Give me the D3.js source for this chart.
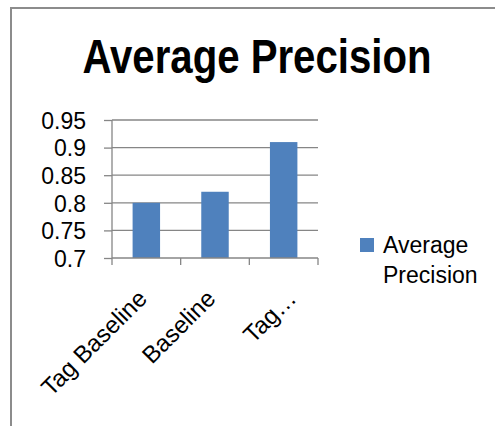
<!DOCTYPE html>
<html lang="en">
<head>
    <meta charset="UTF-8">
    <title>Average Precision</title>
    <script src="https://d3js.org/d3.v7.min.js"></script>
    <style>
        body {
            margin: 0;
            padding: 0;
            background-color: #ffffff;
        }
        svg text {
            font-family: 'Liberation Sans', Arial, sans-serif;
            fill: #000000;
        }
    </style>
</head>
<body>
    <div id="chart"></div>

    <script>
        // data
        const categories = ['Tag Baseline', 'Baseline', 'Tag…'];
        const values = [0.80, 0.82, 0.91];
        const yTicks = [0.7, 0.75, 0.8, 0.85, 0.9, 0.95];
        const seriesName = 'Average Precision';

        const width = 495;
        const height = 426;
        const gridColor = '#868686';
        const barColor = '#4f81bd';

        const svg = d3.select('#chart')
            .append('svg')
            .attr('width', width)
            .attr('height', height);

        // chart frame (only left and top edges are visible in the crop)
        svg.append('path')
            .attr('d', `M11,${height} V8 H${width}`)
            .attr('fill', 'none')
            .attr('stroke', '#8c8c8c')
            .attr('stroke-width', 2);

        // title - the original uses a narrow bold face, so squeeze it horizontally
        svg.append('text')
            .attr('transform', 'translate(257,73) scale(0.82,1)')
            .attr('text-anchor', 'middle')
            .style('font-weight', 'bold')
            .style('font-size', '49px')
            .text(seriesName);

        const x = d3.scaleBand()
            .domain(categories)
            .range([112, 318])
            .paddingInner(0.6)
            .paddingOuter(0.3);

        const y = d3.scaleLinear()
            .domain([0.7, 0.95])
            .range([258, 120]);

        // gridlines
        svg.append('g')
            .selectAll('line')
            .data(yTicks.slice(1))
            .join('line')
            .attr('x1', 112)
            .attr('x2', 318)
            .attr('y1', d => y(d))
            .attr('y2', d => y(d))
            .attr('stroke', gridColor)
            .attr('stroke-width', 1.3);

        // y axis
        const yAxis = svg.append('g')
            .attr('transform', 'translate(112,0)')
            .call(d3.axisLeft(y).tickValues(yTicks).tickSize(8).tickPadding(18)
                .tickFormat(d => d3.format('')(+d.toFixed(2))));
        yAxis.select('.domain').attr('stroke', gridColor).attr('stroke-width', 1.3)
            .attr('d', `M0,${y(0.95)}V${y(0.7)}`);
        yAxis.selectAll('.tick line').attr('stroke', gridColor).attr('stroke-width', 1.3);
        yAxis.selectAll('.tick text')
            .style('font-size', '23px')
            .attr('dy', '0.36em');

        // bars
        svg.append('g')
            .selectAll('rect')
            .data(values)
            .join('rect')
            .attr('x', (d, i) => x(categories[i]))
            .attr('y', d => y(d))
            .attr('width', x.bandwidth())
            .attr('height', d => y(0.7) - y(d))
            .attr('fill', barColor);

        // x axis line with tick marks between categories
        const step = x.step();
        const x0 = 112;
        const tickPos = d3.range(categories.length + 1).map(i => x0 + i * step);
        svg.append('line')
            .attr('x1', 112).attr('x2', 318)
            .attr('y1', y(0.7)).attr('y2', y(0.7))
            .attr('stroke', gridColor).attr('stroke-width', 1.3);
        svg.append('g')
            .selectAll('line')
            .data(tickPos)
            .join('line')
            .attr('x1', d => d).attr('x2', d => d)
            .attr('y1', y(0.7)).attr('y2', y(0.7) + 7)
            .attr('stroke', gridColor).attr('stroke-width', 1.3);

        // rotated category labels
        svg.append('g')
            .selectAll('text')
            .data(categories)
            .join('text')
            .attr('transform', (d, i) => {
                const cx = x(d) + x.bandwidth() / 2 + (i === categories.length - 1 ? 14 : 2);
                return `translate(${cx},${y(0.7) + 42}) rotate(-45)`;
            })
            .attr('text-anchor', 'end')
            .style('font-size', '24px')
            .text(d => d);

        // legend
        const legend = svg.append('g').attr('transform', 'translate(360,238)');
        legend.append('rect')
            .attr('width', 14)
            .attr('height', 14)
            .attr('fill', barColor);
        legend.append('text')
            .attr('x', 23)
            .attr('y', 15)
            .style('font-size', '23px')
            .text('Average');
        legend.append('text')
            .attr('x', 23)
            .attr('y', 45)
            .style('font-size', '23px')
            .text('Precision');
    </script>
</body>
</html>
